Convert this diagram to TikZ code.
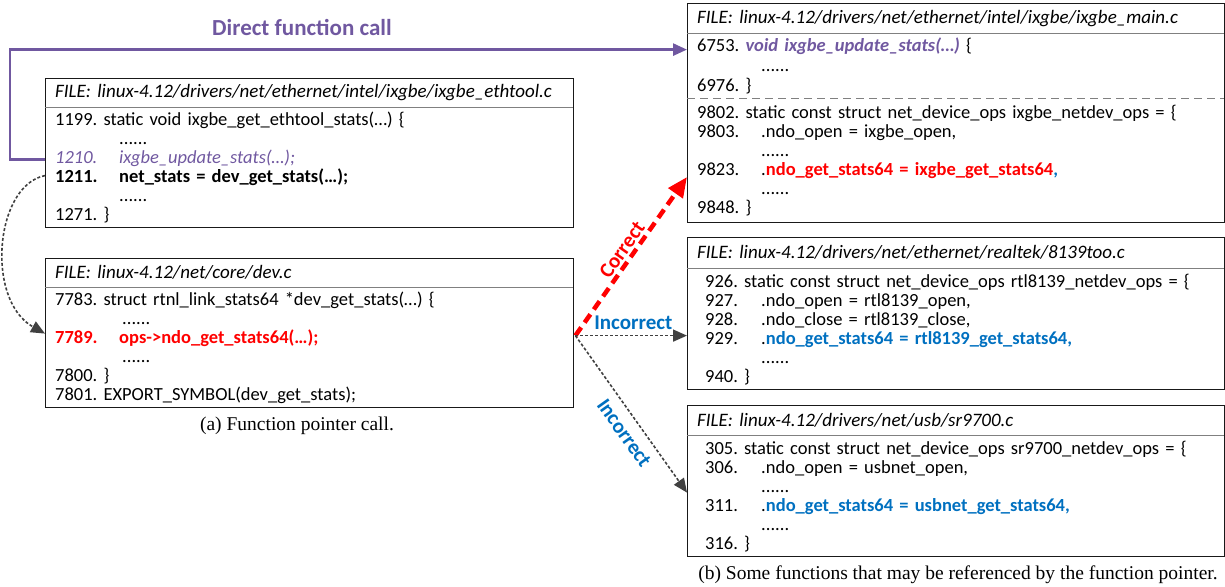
\documentclass[tikz,border=0pt]{standalone}
\usepackage{fontspec}
\setmainfont{Liberation Serif}
\newfontfamily\calibri{Carlito}
\usetikzlibrary{arrows.meta, positioning}

\definecolor{callpurple}{RGB}{112,88,160}
\definecolor{ptrred}{RGB}{255,0,0}
\definecolor{ptrblue}{RGB}{0,112,192}
\definecolor{edgegray}{RGB}{64,64,64}

\newcommand{\codeln}[3][64pt]{\makebox[#1][l]{#2}#3}

\begin{document}
\frenchspacing
\begin{tikzpicture}[x=1pt, y=-1pt,
    every node/.style={font=\calibri\fontsize{18.5}{19}\selectfont},
    filehdr/.style={
        anchor=north west,
        inner xsep=10pt,
        inner ysep=0pt,
        align=left,
        font=\calibri\itshape\fontsize{19}{19}\selectfont
    },
    filebody/.style={
        inner xsep=10pt,
        inner ysep=0pt,
        align=left
    },
    leftcol/.style={text width=508pt},
    rightcol/.style={text width=517pt},
    frame/.style={draw=black!90, line width=0.9pt},
    hdrline/.style={draw=black!50, line width=0.8pt},
    callarrow/.style={
        draw=callpurple,
        line width=2.6pt,
        -{Triangle[length=14pt, width=12pt]}
    },
    ptrarrow/.style={
        draw=edgegray,
        line width=1.6pt,
        dash pattern=on 3pt off 2pt,
        -{Triangle[length=14pt, width=12pt]}
    },
    goodarrow/.style={
        draw=ptrred,
        line width=4.5pt,
        dash pattern=on 10pt off 6pt,
        -{Triangle[length=20pt, width=17pt]}
    },
    goodlabel/.style={sloped, text=ptrred, font=\calibri\bfseries\fontsize{21}{21}\selectfont},
    badlabel/.style={sloped, text=ptrblue, font=\calibri\bfseries\fontsize{21}{21}\selectfont},
    caption/.style={font=\rmfamily\fontsize{19.5}{19.5}\selectfont}
]
\useasboundingbox (0,0) rectangle (1225,586);

\node[font=\calibri\bfseries\fontsize{23}{23}\selectfont, text=callpurple] (calltitle) at (302,27) {Direct function call};

% caller: ixgbe_ethtool.c
\node[filehdr, leftcol, minimum height=29pt] (ethtoolhdr) at (45,78) {FILE: linux-4.12/drivers/net/ethernet/intel/ixgbe/ixgbe\_ethtool.c};
\node[filebody, leftcol, minimum height=120pt, below=0pt of ethtoolhdr] (ethtoolbody) {%
1199. static void ixgbe\_get\_ethtool\_stats(…) \{\\
\codeln{}{......}\\
{\color{callpurple}\itshape\codeln{1210.}{ixgbe\_update\_stats(…);}}\\
{\bfseries\codeln{1211.}{net\_stats = dev\_get\_stats(…);}}\\
\codeln{}{......}\\
1271. \}};
\draw[frame] (ethtoolhdr.north west) rectangle (ethtoolbody.south east);
\draw[hdrline] (ethtoolhdr.south west) -- (ethtoolhdr.south east);

% dev.c
\node[filehdr, leftcol, minimum height=29pt] (devhdr) at (45,258) {FILE: linux-4.12/net/core/dev.c};
\node[filebody, leftcol, minimum height=120pt, below=0pt of devhdr] (devbody) {%
7783. struct rtnl\_link\_stats64 *dev\_get\_stats(…) \{\\
\codeln{}{\hspace*{3pt}......}\\
{\bfseries\color{ptrred}\codeln{7789.}{ops->ndo\_get\_stats64(…);}}\\
\codeln{}{\hspace*{3pt}......}\\
7800. \}\\
7801. EXPORT\_SYMBOL(dev\_get\_stats);};
\draw[frame] (devhdr.north west) rectangle (devbody.south east);
\draw[hdrline] (devhdr.south west) -- (devhdr.south east);

\node[caption] (capa) at (297,426) {(a) Function pointer call.};

% ixgbe_main.c
\node[filehdr, rightcol, minimum height=30pt] (mainhdr) at (687,3) {FILE: linux-4.12/drivers/net/ethernet/intel/ixgbe/ixgbe\_main.c};
\node[filebody, rightcol, minimum height=65pt, below=0pt of mainhdr, font=\calibri\fontsize{18.5}{20}\selectfont] (mainupper) {%
6753. {\bfseries\itshape\color{callpurple}void ixgbe\_update\_stats(…)} \{\\
\codeln{}{......}\\
6976. \}};
\node[filebody, rightcol, minimum height=123pt, below=0pt of mainupper] (mainlower) {%
9802. static const struct net\_device\_ops ixgbe\_netdev\_ops = \{\\
\codeln{9803.}{.ndo\_open = ixgbe\_open,}\\
\codeln{}{......}\\
\codeln{9823.}{.{\bfseries\color{ptrred}ndo\_get\_stats64 = ixgbe\_get\_stats64}{\bfseries\color{ptrblue},}}\\
\codeln{}{......}\\
9848. \}};
\draw[frame] (mainhdr.north west) rectangle (mainlower.south east);
\draw[hdrline] (mainhdr.south west) -- (mainhdr.south east);
\draw[hdrline, dash pattern=on 8pt off 5pt] (mainupper.south west) -- (mainupper.south east);

% 8139too.c
\node[filehdr, rightcol, minimum height=31pt] (rtlhdr) at (687,237) {FILE: linux-4.12/drivers/net/ethernet/realtek/8139too.c};
\node[filebody, rightcol, minimum height=121pt, below=0pt of rtlhdr] (rtlbody) {%
\hspace*{8pt}926. static const struct net\_device\_ops rtl8139\_netdev\_ops = \{\\
\hspace*{8pt}\codeln[56pt]{927.}{.ndo\_open = rtl8139\_open,}\\
\hspace*{8pt}\codeln[56pt]{928.}{.ndo\_close = rtl8139\_close,}\\
\hspace*{8pt}\codeln[56pt]{929.}{.{\bfseries\color{ptrblue}ndo\_get\_stats64 = rtl8139\_get\_stats64,}}\\
\hspace*{8pt}\codeln[56pt]{}{......}\\
\hspace*{8pt}940. \}};
\draw[frame] (rtlhdr.north west) rectangle (rtlbody.south east);
\draw[hdrline] (rtlhdr.south west) -- (rtlhdr.south east);

% sr9700.c
\node[filehdr, rightcol, minimum height=30pt] (srhdr) at (687,405) {FILE: linux-4.12/drivers/net/usb/sr9700.c};
\node[filebody, rightcol, minimum height=121pt, below=0pt of srhdr] (srbody) {%
\hspace*{8pt}305. static const struct net\_device\_ops sr9700\_netdev\_ops = \{\\
\hspace*{8pt}\codeln[56pt]{306.}{.ndo\_open = usbnet\_open,}\\
\hspace*{8pt}\codeln[56pt]{}{......}\\
\hspace*{8pt}\codeln[56pt]{311.}{.{\bfseries\color{ptrblue}ndo\_get\_stats64 = usbnet\_get\_stats64,}}\\
\hspace*{8pt}\codeln[56pt]{}{......}\\
\hspace*{8pt}316. \}};
\draw[frame] (srhdr.north west) rectangle (srbody.south east);
\draw[hdrline] (srhdr.south west) -- (srhdr.south east);

\node[caption] (capb) at (958,575) {(b) Some functions that may be referenced by the function pointer.};

% connectors
\coordinate (fptr) at ([xshift=2pt, yshift=12pt]devbody.east);
\draw[callarrow] ([yshift=8pt]ethtoolbody.west) -- ++(-35,0) |- ([yshift=16.5pt]mainupper.west);
\draw[ptrarrow] ([yshift=-8pt]ethtoolbody.west) .. controls (-5,185) and (-15,300) .. ([yshift=14pt]devbody.west);
\draw[goodarrow] (fptr) -- node[goodlabel, above, inner sep=2pt] (goodtxt) {Correct} ([yshift=-16.5pt]mainlower.west);
\draw[ptrarrow] (fptr) -- node[badlabel, above, inner sep=5pt, pos=0.52] (badtxta) {Incorrect} ([yshift=-6.5pt]rtlbody.west);
\draw[ptrarrow] (fptr) -- node[badlabel, below, inner sep=9pt, pos=0.56] (badtxtb) {Incorrect} ([yshift=3.5pt]srbody.west);

\end{tikzpicture}
\end{document}
